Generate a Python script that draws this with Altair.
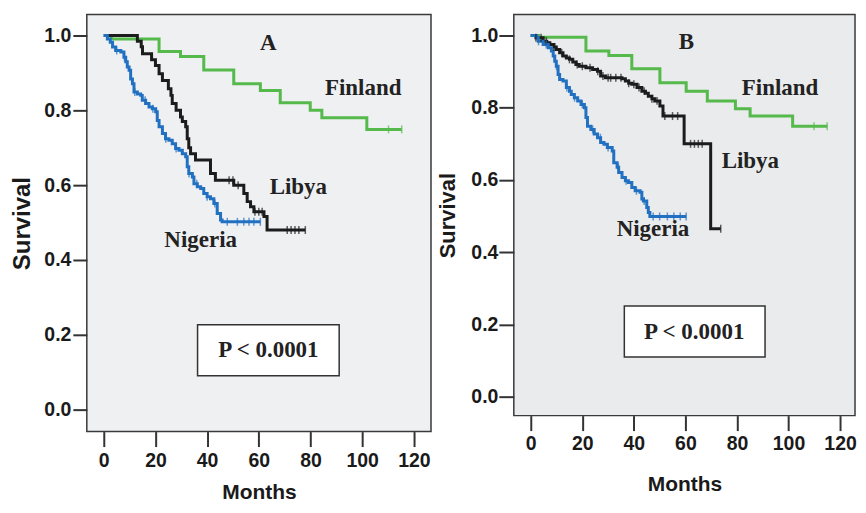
import altair as alt
import pandas as pd

# ---------------- data ----------------
month_ticks = [0, 20, 40, 60, 80, 100, 120]
surv_ticks = [0.0, 0.2, 0.4, 0.6, 0.8, 1.0]
groups = ["Finland", "Libya", "Nigeria"]
colors = ["#55b94b", "#1c1c1c", "#2170c1"]

# Panel A step curves (time of step, survival after step; last = end of follow-up)
fin_a_t = [0, 3, 21.4, 29.7, 38.7, 50.3, 60.6, 68.3, 79.9, 84.4, 101.8, 115.3]
fin_a_s = [1.0, 0.991, 0.957, 0.944, 0.908, 0.871, 0.853, 0.820, 0.800, 0.780, 0.749, 0.749]
lib_a_t = [0, 13.0, 14.5, 15.0, 18.5, 20.0, 21.4, 22.7, 25.0, 26.0, 26.5, 28.0, 29.7, 30.4,
           31.7, 32.3, 32.9, 33.6, 35.5, 41.3, 43.2, 50.3, 54.2, 55.5, 56.8, 58.1, 62.0, 63.2, 78.0]
lib_a_s = [1.0, 0.985, 0.970, 0.951, 0.935, 0.920, 0.898, 0.880, 0.858, 0.840, 0.818, 0.800, 0.782, 0.770,
           0.756, 0.724, 0.700, 0.684, 0.667, 0.631, 0.613, 0.600, 0.578, 0.556, 0.542, 0.529, 0.516, 0.480, 0.480]
nig_a_t = [0, 1.4, 2.5, 3.4, 4.6, 6.6, 7.8, 8.5, 9.1, 9.8, 10.4, 11.1, 11.7, 13.0, 14.3, 14.9, 16.2,
           17.5, 18.8, 20.1, 20.7, 21.4, 22.7, 23.9, 25.2, 26.5, 27.8, 29.1, 30.4, 31.7, 32.3, 32.9,
           34.3, 34.9, 36.2, 37.5, 38.7, 40.0, 41.3, 42.6, 43.9, 45.2, 45.8, 60.6]
nig_a_s = [1.0, 0.991, 0.982, 0.969, 0.960, 0.956, 0.942, 0.930, 0.916, 0.907, 0.884, 0.871, 0.849, 0.844,
           0.840, 0.827, 0.818, 0.809, 0.804, 0.796, 0.773, 0.756, 0.738, 0.724, 0.720, 0.711, 0.698, 0.693,
           0.684, 0.676, 0.649, 0.631, 0.622, 0.604, 0.596, 0.591, 0.578, 0.569, 0.564, 0.551, 0.524, 0.507,
           0.502, 0.502]
fin_a_cens = [110.2, 115.3]
lib_a_cens = [48.5, 50.0, 52.0, 58.5, 60.0, 61.3, 71.0, 72.5, 74.0, 75.5, 78.0]
nig_a_cens = [5, 8, 12, 16, 19, 24, 28, 33, 36, 40, 43, 47.8, 51.7, 54.2, 56.2, 58.1, 60.6]

# Panel B step curves
fin_b_t = [0, 3, 21.4, 30.3, 39.2, 50.1, 60.3, 68.5, 79.4, 85.1, 101.6, 115.0]
fin_b_s = [1.0, 0.995, 0.957, 0.945, 0.908, 0.869, 0.846, 0.819, 0.797, 0.777, 0.749, 0.749]
lib_b_t = [0, 2.0, 4.8, 6.2, 7.4, 9.0, 9.9, 11.2, 12.5, 13.8, 15.0, 16.3, 17.5, 18.8, 21.4, 24.0,
           25.9, 27.1, 29.0, 35.4, 36.7, 38.0, 39.2, 41.2, 43.1, 44.5, 45.6, 47.0, 48.1, 50.1, 51.3,
           59.5, 69.8, 73.7]
lib_b_s = [1.0, 0.994, 0.984, 0.980, 0.975, 0.968, 0.961, 0.952, 0.943, 0.938, 0.934, 0.927, 0.920,
           0.915, 0.911, 0.906, 0.901, 0.888, 0.883, 0.880, 0.874, 0.868, 0.865, 0.856, 0.846, 0.840,
           0.832, 0.825, 0.819, 0.805, 0.777, 0.700, 0.465, 0.465]
nig_b_t = [0, 2.3, 2.9, 4.8, 6.8, 8.0, 8.7, 9.3, 9.9, 10.6, 11.2, 12.5, 13.8, 15.0, 15.7, 16.9, 18.2,
           19.5, 20.8, 21.4, 22.0, 23.3, 24.6, 25.9, 27.1, 28.4, 29.7, 31.6, 32.2, 33.5, 34.1, 35.4,
           36.7, 37.9, 39.2, 40.5, 42.4, 43.1, 43.7, 45.0, 45.6, 46.2, 60.3]
nig_b_s = [1.0, 0.994, 0.984, 0.975, 0.966, 0.957, 0.943, 0.929, 0.915, 0.892, 0.878, 0.874, 0.856,
           0.846, 0.837, 0.828, 0.819, 0.809, 0.800, 0.773, 0.749, 0.740, 0.727, 0.717, 0.704, 0.699,
           0.690, 0.680, 0.648, 0.635, 0.621, 0.607, 0.598, 0.593, 0.579, 0.570, 0.566, 0.547, 0.542,
           0.524, 0.510, 0.499, 0.499]
fin_b_cens = [109.9, 115.0]
lib_b_cens = [2, 4, 6, 9, 12, 15, 18, 20, 23, 26, 28, 30, 31, 33, 35, 38, 40, 42, 44, 47, 49, 52, 55,
              57, 62, 63.5, 65, 66.5, 73.7]
nig_b_cens = [3, 6, 10, 14, 17, 20, 24, 27, 30, 34, 37, 41, 44, 47.5, 50, 53, 55.5, 58, 60.3]

# annotation text
p_text = "P < 0.0001"
labels_a = {"A": (63.7, 0.981), "Finland": (100.4, 0.859), "Libya": (75.3, 0.595),
            "Nigeria": (37.5, 0.453), p_text: (63.7, 0.160)}
labels_b = {"B": (60.4, 0.983), "Finland": (96.7, 0.856), "Libya": (85.2, 0.652),
            "Nigeria": (47.4, 0.464), p_text: (63.4, 0.180)}
pbox_a = (36.3, 91.1, 0.0907, 0.227)
pbox_b = (36.3, 90.9, 0.110, 0.251)


def value_at(ts, ss, x):
    v = ss[0]
    for ti, si in zip(ts, ss):
        if ti <= x:
            v = si
    return v


def curves_df(curves):
    rows = []
    for g, (ts, ss) in zip(groups, curves):
        for t, s in zip(ts, ss):
            rows.append({"t": t, "s": s, "g": g})
    return pd.DataFrame(rows)


def cens_df(curves, cens):
    rows = []
    for g, (ts, ss), cs in zip(groups, curves, cens):
        for c in cs:
            rows.append({"t": c, "s": value_at(ts, ss, c), "g": g})
    return pd.DataFrame(rows)


def panel(curves, cens, labels, pbox, xdom, ydom, w, h, fill,
          ytick, ylabpad, ytitlepad, ytitlesize, xlabpad, xtitlepad):
    xs = alt.Scale(domain=xdom, nice=False, zero=False)
    ys = alt.Scale(domain=ydom, nice=False, zero=False)
    xax = alt.Axis(values=month_ticks, format="d", title="Months", domain=False, grid=False,
                   tickSize=15, tickWidth=2, tickColor="#333333", labelPadding=xlabpad,
                   labelFont="Liberation Sans", labelFontSize=19.5, labelFontWeight="bold",
                   labelColor="#1a1a1a", titleFont="Liberation Sans", titleFontSize=21,
                   titleFontWeight="bold", titleColor="#1a1a1a", titlePadding=xtitlepad,
                   labelFlush=False, labelOverlap=False)
    yax = alt.Axis(values=surv_ticks, format=".1f", title="Survival", domain=False, grid=False,
                   tickSize=ytick, tickWidth=2, tickColor="#333333", labelPadding=ylabpad,
                   labelFont="Liberation Sans", labelFontSize=19.5, labelFontWeight="bold",
                   labelColor="#1a1a1a", titleFont="Liberation Sans", titleFontSize=ytitlesize,
                   titleFontWeight="bold", titleColor="#1a1a1a", titlePadding=ytitlepad,
                   labelFlush=False, labelOverlap=False)
    col = alt.Color("g:N", scale=alt.Scale(domain=groups, range=colors), legend=None)

    lines = alt.Chart(curves_df(curves)).mark_line(
        interpolate="step-after", strokeWidth=3
    ).encode(
        x=alt.X("t:Q", scale=xs, axis=xax),
        y=alt.Y("s:Q", scale=ys, axis=yax),
        color=col,
        order=alt.Order("t:Q"),
    )
    ticks = alt.Chart(cens_df(curves, cens)).mark_tick(
        orient="vertical", size=8, thickness=1.5
    ).encode(x=alt.X("t:Q", scale=xs), y=alt.Y("s:Q", scale=ys), color=col)

    box = alt.Chart(pd.DataFrame([{"x1": pbox[0], "x2": pbox[1], "y1": pbox[2], "y2": pbox[3]}])).mark_rect(
        fill="white", stroke="#333333", strokeWidth=1.5
    ).encode(x=alt.X("x1:Q", scale=xs), x2="x2:Q", y=alt.Y("y1:Q", scale=ys), y2="y2:Q")

    ldf = pd.DataFrame([{"label": k, "t": v[0], "s": v[1]} for k, v in labels.items()])
    text = alt.Chart(ldf).mark_text(
        font="Liberation Serif", fontSize=23, fontWeight="bold", color="#222222",
        align="center", baseline="middle"
    ).encode(x=alt.X("t:Q", scale=xs), y=alt.Y("s:Q", scale=ys), text="label:N")

    return alt.layer(lines, ticks, box, text).properties(
        width=w, height=h,
        view=alt.ViewBackground(fill=fill, stroke="#3a3a3a", strokeWidth=1.5),
    )


curves_a = [(fin_a_t, fin_a_s), (lib_a_t, lib_a_s), (nig_a_t, nig_a_s)]
curves_b = [(fin_b_t, fin_b_s), (lib_b_t, lib_b_s), (nig_b_t, nig_b_s)]

pa = panel(curves_a, [fin_a_cens, lib_a_cens, nig_a_cens], labels_a, pbox_a,
           [-6.56, 126.64], [-0.0587, 1.056], 345, 418, "#eff0f2", 14, 2, 9, 24, 5, 12)
pb = panel(curves_b, [fin_b_cens, lib_b_cens, nig_b_cens], labels_b, pbox_b,
           [-6.58, 125.8], [-0.0525, 1.058], 342, 402, "#eaebed", 15, 1, 11, 22, 4, 21)

chart = alt.hconcat(pa, pb, spacing=83, bounds="flush").properties(
    padding={"left": 2, "top": 5, "right": 0, "bottom": 0},
    background="white",
)

chart.save("out.html", embed_options={"renderer": "svg", "actions": False})
